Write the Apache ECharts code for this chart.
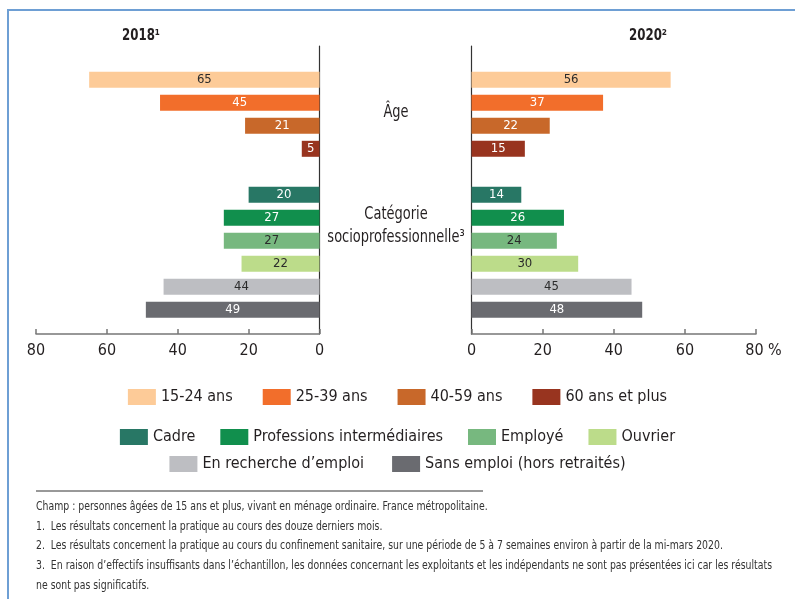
<!DOCTYPE html>
<html><head><meta charset="utf-8">
<script src="https://cdn.jsdelivr.net/npm/echarts@6/dist/echarts.min.js"></script>
<style>html,body{margin:0;padding:0;background:#fff}#c{width:795px;height:599px}</style>
</head><body><div id="c"></div>
<script>
const categories = ['15-24 ans','25-39 ans','40-59 ans','60 ans et plus','','Cadre','Professions intermédiaires','Employé','Ouvrier','En recherche d’emploi','Sans emploi (hors retraités)'];
const values2018 = [65,45,21,5,null,20,27,27,22,44,49];
const values2020 = [56,37,22,15,null,14,26,24,30,45,48];
const colors = ['#fdcb98','#f26e2b','#c8682a','#98341f',null,'#287765','#118f4d','#77b87f','#bcdc8a','#bdbec2','#6a6b70'];
const labelColors = ['#2b2b2b','#ffffff','#ffffff','#ffffff',null,'#ffffff','#ffffff','#2b2b2b','#2b2b2b','#2b2b2b','#ffffff'];
const legendRow1 = ['15-24 ans','25-39 ans','40-59 ans','60 ans et plus'];
const legendRow2 = ['Cadre','Professions intermédiaires','Employé','Ouvrier'];
const legendRow3 = ['En recherche d’emploi','Sans emploi (hors retraités)'];
const footnotes = [
  'Champ : personnes âgées de 15 ans et plus, vivant en ménage ordinaire. France métropolitaine.',
  '1.  Les résultats concernent la pratique au cours des douze derniers mois.',
  '2.  Les résultats concernent la pratique au cours du confinement sanitaire, sur une période de 5 à 7 semaines environ à partir de la mi-mars 2020.',
  '3.  En raison d’effectifs insuffisants dans l’échantillon, les données concernant les exploitants et les indépendants ne sont pas présentées ici car les résultats',
  'ne sont pas significatifs.'
];
const FONT = '"DejaVu Sans Condensed", "Liberation Sans", sans-serif';
const TXT = '#231f20';

function makeSeries(values, xi, yi) {
  const out = [];
  categories.forEach((name, i) => {
    if (!name) return;
    out.push({
      type: 'bar', name: name, xAxisIndex: xi, yAxisIndex: yi,
      barWidth: 16, barGap: '-100%',
      itemStyle: { color: colors[i] },
      label: { show: true, position: 'inside', color: labelColors[i], fontSize: 13, fontFamily: FONT },
      emphasis: { disabled: true },
      data: values.map((v, j) => (j === i && v != null) ? v : '-')
    });
  });
  return out;
}

const frameX = (inverse, last) => ({
  type: 'value', min: 0, max: 80, interval: 20, inverse: inverse,
  axisLine: { show: true, onZero: false, lineStyle: { color: '#777', width: 1.5 } },
  axisTick: { show: true, inside: true, length: 5, lineStyle: { color: '#777', width: 1.5 } },
  splitLine: { show: false },
  axisLabel: {
    show: true, margin: 9, color: TXT, fontSize: 16, fontFamily: FONT,
    formatter: v => (last && v === 80) ? '{pad|}80 %' : String(v),
    rich: { pad: { width: 15 } }
  }
});
const hiddenX = (inverse) => ({ type: 'value', min: 0, max: 80, inverse: inverse, show: false });
const hiddenY = () => ({ type: 'category', data: categories, inverse: true, show: false });
const frameY = (pos) => ({
  type: 'value', min: 0, max: 1, position: pos,
  axisLine: { show: true, onZero: false, lineStyle: { color: '#333', width: 1.2 } },
  axisTick: { show: false }, axisLabel: { show: false }, splitLine: { show: false }
});

const legendBase = {
  left: 'center', icon: 'rect', itemWidth: 28, itemHeight: 16,
  textStyle: { fontSize: 16, color: TXT, fontFamily: FONT },
  selectedMode: false
};

// fit footnote text width to the reference line width
const mctx = document.createElement('canvas').getContext('2d');
mctx.font = '13px ' + FONT;
const footScale = Math.min(1, 736 / mctx.measureText(footnotes[3]).width);

const centerText = (x, y, text, font, sx) => ({
  type: 'text', x: x, y: y, scaleX: sx,
  style: { text: text, font: font, fill: TXT, textAlign: 'center', textVerticalAlign: 'middle' }
});

const graphics = [
  { type: 'polyline', shape: { points: [[8, 599], [8, 10], [795, 10]] }, style: { stroke: '#6e9fd4', lineWidth: 2, fill: null } },
  centerText(141, 36, '2018¹', 'bold 16px ' + FONT, 0.82),
  centerText(648, 36, '2020²', 'bold 16px ' + FONT, 0.82),
  centerText(396, 113, 'Âge', '17px ' + FONT, 0.85),
  centerText(396, 215, 'Catégorie', '17px ' + FONT, 0.85),
  centerText(396, 238, 'socioprofessionnelle³', '17px ' + FONT, 0.85),
  { type: 'line', shape: { x1: 36, y1: 491, x2: 483, y2: 491 }, style: { stroke: '#333', lineWidth: 1 } }
];
const footY = [507, 527, 546, 566, 586];
footnotes.forEach((t, i) => {
  graphics.push({ type: 'text', x: 36, y: footY[i], scaleX: footScale, style: { text: t, font: '13px ' + FONT, fill: '#333', textAlign: 'left', textVerticalAlign: 'middle' } });
});

const option = {
  animation: false,
  backgroundColor: '#fff',
  grid: [
    { left: 36, right: 475.5, top: 68.3, height: 253 },
    { left: 36, right: 475.5, top: 46, bottom: 265 },
    { left: 471.5, right: 39, top: 68.3, height: 253 },
    { left: 471.5, right: 39, top: 46, bottom: 265 }
  ],
  xAxis: [
    Object.assign(hiddenX(true), { gridIndex: 0 }),
    Object.assign(frameX(true, false), { gridIndex: 1 }),
    Object.assign(hiddenX(false), { gridIndex: 2 }),
    Object.assign(frameX(false, true), { gridIndex: 3 })
  ],
  yAxis: [
    Object.assign(hiddenY(), { gridIndex: 0 }),
    Object.assign(frameY('right'), { gridIndex: 1 }),
    Object.assign(hiddenY(), { gridIndex: 2 }),
    Object.assign(frameY('left'), { gridIndex: 3 })
  ],
  legend: [
    Object.assign({}, legendBase, { top: 384, itemGap: 30, data: legendRow1 }),
    Object.assign({}, legendBase, { top: 424, itemGap: 25, data: legendRow2 }),
    Object.assign({}, legendBase, { top: 451, itemGap: 28, data: legendRow3 })
  ],
  series: makeSeries(values2018, 0, 0).concat(makeSeries(values2020, 2, 2)),
  graphic: graphics
};
const chart = echarts.init(document.getElementById('c'), null, { renderer: 'canvas' });
chart.setOption(option);
</script></body></html>
